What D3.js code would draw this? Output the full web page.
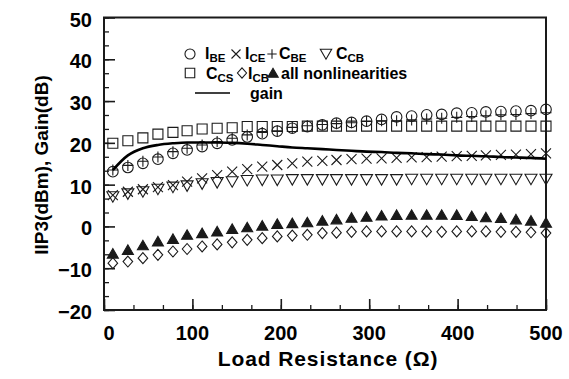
<!DOCTYPE html>
<html><head><meta charset="utf-8">
<script src="https://cdn.jsdelivr.net/npm/d3@7"></script>
<style>
body{margin:0;background:#fff;}
text{font-family:"Liberation Sans",Arial,Helvetica,sans-serif;font-weight:bold;fill:#000;}
</style></head>
<body><svg id="c" width="569" height="379"></svg>
<script>
// Load resistance (ohm)
const loadR = [10, 27, 44, 61, 78, 94, 111, 128, 145, 162, 179, 196, 213, 230, 247, 263, 280, 297, 314, 331, 348, 365, 382, 399, 416, 432, 449, 466, 483, 500];
// IIP3 series (dBm)
const iBE  = [13.1, 14.1, 15.1, 16.1, 17.5, 18.3, 19.1, 19.9, 20.7, 21.4, 22.2, 22.8, 23.5, 23.9, 24.3, 24.7, 24.9, 25.2, 25.6, 26.2, 26.4, 26.7, 26.8, 27.1, 27.2, 27.4, 27.5, 27.6, 27.7, 28.0];
const iCE  = [7.5, 8.3, 8.9, 9.4, 9.9, 10.7, 11.5, 12.3, 13.1, 13.7, 14.3, 14.7, 15.1, 15.5, 15.7, 15.9, 16.1, 16.2, 16.3, 16.4, 16.5, 16.6, 16.7, 16.8, 16.9, 17.0, 17.1, 17.2, 17.3, 17.5];
const cBE  = [13.5, 14.6, 15.6, 16.6, 17.9, 18.7, 19.5, 20.3, 21.1, 21.9, 22.5, 22.9, 23.7, 24.1, 24.4, 24.6, 24.8, 25.1, 25.3, 25.3, 25.5, 25.7, 25.9, 26.1, 26.3, 26.5, 26.7, 26.8, 27.0, 27.2];
const cCB  = [7.1, 7.8, 8.3, 8.9, 9.4, 9.7, 10.2, 10.5, 10.7, 11.0, 11.1, 11.1, 11.2, 11.2, 11.2, 11.2, 11.2, 11.2, 11.2, 11.2, 11.3, 11.3, 11.3, 11.3, 11.3, 11.3, 11.3, 11.3, 11.3, 11.3];
const cCS  = [19.9, 20.5, 21.2, 22.1, 22.5, 22.9, 23.3, 23.5, 23.6, 23.9, 23.9, 23.9, 23.9, 24.0, 24.0, 24.0, 24.0, 24.0, 24.0, 24.0, 24.0, 24.0, 24.0, 24.0, 24.0, 24.0, 24.0, 24.0, 24.0, 24.0];
const iCB  = [-8.8, -8.4, -7.6, -6.8, -6.0, -5.4, -4.8, -4.3, -3.8, -3.2, -2.8, -2.4, -2.2, -2.0, -1.6, -1.5, -1.3, -1.2, -1.2, -1.2, -1.2, -1.2, -1.3, -1.2, -1.2, -1.2, -1.3, -1.3, -1.4, -1.6];
const allNL = [-6.5, -5.6, -4.5, -3.6, -3.0, -2.0, -1.6, -1.2, -0.6, -0.2, 0.2, 0.6, 0.8, 1.0, 1.4, 1.7, 2.1, 2.3, 2.6, 2.75, 2.8, 2.8, 2.8, 2.75, 2.5, 2.2, 2.0, 1.7, 1.4, 0.9];
// Gain (dB)
const gain = [13.5, 17.0, 18.7, 19.5, 19.9, 20.1, 20.1, 20.1, 20.0, 19.8, 19.5, 19.2, 18.9, 18.7, 18.5, 18.3, 18.1, 17.9, 17.8, 17.6, 17.5, 17.3, 17.2, 17.0, 16.9, 16.8, 16.6, 16.5, 16.4, 16.2];
// Ticks
const xTicks = [0, 100, 200, 300, 400, 500];
const yTicks = [-20, -10, 0, 10, 20, 30, 40, 50];

const svg = d3.select("#c");
const x = d3.scaleLinear().domain([0, 500]).range([104, 546]);
const y = d3.scaleLinear().domain([-20, 50]).range([310, 17.5]);
const ink = "#1a1a1a";

const shapes = {
  square: "M-5,-5H5V5H-5Z",
  cross: "M-5,-5L5,5M-5,5L5,-5",
  plus: "M-5.5,0H5.5M0,-5.5V5.5",
  tdown: "M-6,-5L6,-5L0,5.5Z",
  tup: "M-5.5,4.5L5.5,4.5L0,-5Z",
  diamond: "M0,-5.5L4.8,0L0,5.5L-4.8,0Z"
};
function marker(g, kind, cx, cy, sc) {
  sc = sc || 1;
  if (kind === "circle") {
    g.append("circle").attr("cx", cx).attr("cy", cy).attr("r", 5.3 * sc)
      .attr("fill", "none").attr("stroke", ink).attr("stroke-width", 1.1);
  } else {
    g.append("path").attr("d", shapes[kind]).attr("transform", `translate(${cx},${cy}) scale(${sc})`)
      .attr("fill", kind === "tup" ? ink : "none").attr("stroke", ink).attr("stroke-width", 1.1 / sc);
  }
}

// minor/major ticks
const xMinor = d3.range(0, 501, 100 / 3);
const yMinor = d3.range(-20, 50.01, 10 / 3);
const axisG = svg.append("g");
axisG.append("g").attr("transform", "translate(0,310)")
  .call(d3.axisBottom(x).tickValues(xMinor).tickSize(-5).tickFormat(""))
  .call(g => g.select(".domain").remove())
  .selectAll("line").attr("stroke", ink).attr("stroke-width", 1.3);
axisG.append("g").attr("transform", "translate(0,310)")
  .call(d3.axisBottom(x).tickValues(xTicks).tickSize(-11).tickFormat(""))
  .call(g => g.select(".domain").remove())
  .selectAll("line").attr("stroke", ink).attr("stroke-width", 1.6);
axisG.append("g").attr("transform", "translate(104,0)")
  .call(d3.axisLeft(y).tickValues(yMinor).tickSize(-5).tickFormat(""))
  .call(g => g.select(".domain").remove())
  .selectAll("line").attr("stroke", ink).attr("stroke-width", 1.3);
axisG.append("g").attr("transform", "translate(104,0)")
  .call(d3.axisLeft(y).tickValues(yTicks).tickSize(-11).tickFormat(""))
  .call(g => g.select(".domain").remove())
  .selectAll("line").attr("stroke", ink).attr("stroke-width", 1.6);

// frame
svg.append("rect").attr("x", x(0)).attr("y", y(50)).attr("width", x(500) - x(0)).attr("height", y(-20) - y(50))
  .attr("fill", "none").attr("stroke", ink).attr("stroke-width", 2);

// tick labels
svg.append("g").selectAll("text").data(xTicks).join("text")
  .attr("x", d => x(d) + (d === 0 ? 5 : 0)).attr("y", 340).attr("text-anchor", "middle")
  .style("font-size", "20px").text(d => d);
svg.append("g").selectAll("text").data(yTicks).join("text")
  .attr("x", 92).attr("y", d => y(d) + 9).attr("text-anchor", "end")
  .style("font-size", "20px").text(d => d < 0 ? "\u2212" + Math.abs(d) : d);

// axis titles
svg.append("text").attr("x", 328).attr("y", 366).attr("text-anchor", "middle")
  .style("font-size", "21px").style("letter-spacing", "0.9px").text("Load Resistance (\u03A9)");
svg.append("text").attr("transform", "translate(48,165) rotate(-90)").attr("text-anchor", "middle")
  .style("font-size", "19px").text("IIP3(dBm), Gain(dB)");

// data markers
const series = [
  {vals: cCS, kind: "square"},
  {vals: iBE, kind: "circle"},
  {vals: cBE, kind: "plus"},
  {vals: iCE, kind: "cross"},
  {vals: cCB, kind: "tdown"},
  {vals: iCB, kind: "diamond"},
  {vals: allNL, kind: "tup"}
];
const mg = svg.append("g");
series.forEach(s => s.vals.forEach((v, i) => marker(mg, s.kind, x(loadR[i]), y(v))));

// gain line
svg.append("path").datum(gain)
  .attr("d", d3.line().x((d, i) => x(loadR[i])).y(d => y(d)).curve(d3.curveMonotoneX))
  .attr("fill", "none").attr("stroke", "#000").attr("stroke-width", 2.6);

// legend
const lg = svg.append("g");
function label(xp, yp, main, sub) {
  const t = lg.append("text").attr("x", xp).attr("y", yp).style("font-size", "16px");
  t.append("tspan").text(main);
  if (sub) t.append("tspan").attr("dy", 3).style("font-size", "11.5px").text(sub);
}
const r1 = 59, r2 = 79;
marker(lg, "circle", 190, r1 - 5, 0.95);
label(205, r1, "I", "BE");
marker(lg, "cross", 236, r1 - 5, 0.9);
label(245, r1, "I", "CE");
marker(lg, "plus", 272, r1 - 5, 0.85);
label(279, r1, "C", "BE");
marker(lg, "tdown", 326, r1 - 5, 0.95);
label(336, r1, "C", "CB");
marker(lg, "square", 190, r2 - 6, 0.95);
label(206, r2, "C", "CS");
marker(lg, "diamond", 242, r2 - 6, 0.95);
label(248, r2, "I", "CB");
marker(lg, "tup", 273, r2 - 6, 0.95);
label(281, r2, "all nonlinearities");
lg.append("line").attr("x1", 195).attr("x2", 230).attr("y1", 93).attr("y2", 93)
  .attr("stroke", "#000").attr("stroke-width", 1.6);
label(250, 99, "gain");
</script></body></html>
